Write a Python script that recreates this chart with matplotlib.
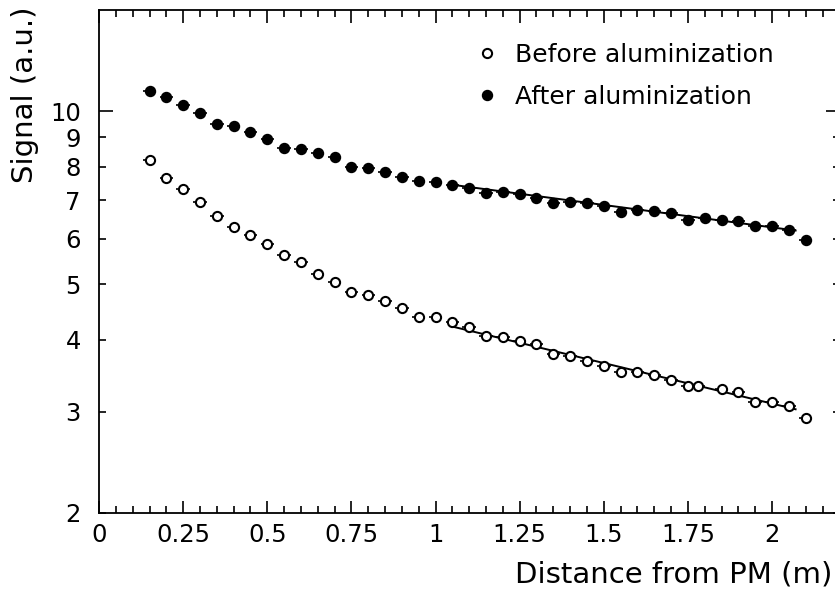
import matplotlib
matplotlib.use('Agg')
import matplotlib.pyplot as plt
from matplotlib.lines import Line2D
from matplotlib.ticker import FixedLocator, FixedFormatter

# distance from PM (m)
before_x = [0.15, 0.20, 0.25, 0.30, 0.35, 0.40, 0.45, 0.50, 0.55, 0.60,
            0.65, 0.70, 0.75, 0.80, 0.85, 0.90, 0.95, 1.00, 1.05, 1.10,
            1.15, 1.20, 1.25, 1.30, 1.35, 1.40, 1.45, 1.50, 1.55, 1.60,
            1.65, 1.70, 1.75, 1.78, 1.85, 1.90, 1.95, 2.00, 2.05, 2.10]
before_y = [8.21, 7.66, 7.32, 6.94, 6.56, 6.30, 6.10, 5.87, 5.61, 5.47,
            5.20, 5.05, 4.84, 4.79, 4.67, 4.55, 4.38, 4.38, 4.30, 4.21,
            4.07, 4.05, 3.99, 3.93, 3.78, 3.75, 3.68, 3.61, 3.52, 3.52,
            3.47, 3.41, 3.32, 3.32, 3.29, 3.25, 3.12, 3.12, 3.07, 2.93]

after_x = [0.15, 0.20, 0.25, 0.30, 0.35, 0.40, 0.45, 0.50, 0.55, 0.60,
           0.65, 0.70, 0.75, 0.80, 0.85, 0.90, 0.95, 1.00, 1.05, 1.10,
           1.15, 1.20, 1.25, 1.30, 1.35, 1.40, 1.45, 1.50, 1.55, 1.60,
           1.65, 1.70, 1.75, 1.80, 1.85, 1.90, 1.95, 2.00, 2.05, 2.10]
after_y = [10.86, 10.59, 10.27, 9.91, 9.49, 9.41, 9.20, 8.95, 8.63, 8.59,
           8.47, 8.33, 8.00, 7.95, 7.85, 7.68, 7.56, 7.52, 7.45, 7.35,
           7.21, 7.24, 7.17, 7.07, 6.92, 6.95, 6.92, 6.84, 6.69, 6.73,
           6.71, 6.65, 6.47, 6.51, 6.47, 6.44, 6.31, 6.31, 6.22, 5.97]

# exponential fits (straight on log scale), end points
fit_before_x = [1.05, 2.07]
fit_before_y = [4.22, 3.03]
fit_after_x = [1.04, 2.07]
fit_after_y = [7.46, 6.20]

x_err = 0.02

xticks = [0, 0.25, 0.5, 0.75, 1, 1.25, 1.5, 1.75, 2]
xticklabels = ['0', '0.25', '0.5', '0.75', '1', '1.25', '1.5', '1.75', '2']
yminor = [2, 3, 4, 5, 6, 7, 8, 9]
yminor_labels = ['2', '3', '4', '5', '6', '7', '8', '9']

plt.rcParams['font.family'] = 'DejaVu Sans'

fig = plt.figure(figsize=(8.35, 5.96), dpi=100)
# right spine falls just outside the picture, as in the scan
ax = fig.add_axes([0.1186, 0.1393, 0.8874, 0.8440])

ax.errorbar(before_x, before_y, xerr=x_err, fmt='o', color='black',
            mfc='white', mec='black', ms=6.6, mew=1.5, elinewidth=1.2,
            capsize=0, zorder=3)
ax.errorbar(after_x, after_y, xerr=x_err, fmt='o', color='black',
            mfc='black', mec='black', ms=7.2, elinewidth=1.2,
            capsize=0, zorder=3)
ax.plot(fit_before_x, fit_before_y, color='black', lw=1.4, zorder=2)
ax.plot(fit_after_x, fit_after_y, color='black', lw=1.4, zorder=2)

ax.set_yscale('log')
ax.set_xlim(0, 2.202)
ax.set_ylim(2, 15)

ax.xaxis.set_major_locator(FixedLocator(xticks))
ax.xaxis.set_major_formatter(FixedFormatter(xticklabels))
ax.set_xticks([i * 0.05 for i in range(45)], minor=True)
ax.yaxis.set_major_locator(FixedLocator([10]))
ax.yaxis.set_major_formatter(FixedFormatter(['10']))
ax.yaxis.set_minor_locator(FixedLocator(yminor))
ax.yaxis.set_minor_formatter(FixedFormatter(yminor_labels))

ax.tick_params(axis='both', which='both', direction='in', top=True,
               right=True, width=1.2, labelsize=17.5)
ax.tick_params(axis='x', which='major', length=9, pad=7)
ax.tick_params(axis='x', which='minor', length=5)
ax.tick_params(axis='y', which='major', length=10, pad=13)
ax.tick_params(axis='y', which='minor', length=5, pad=13)
for s in ax.spines.values():
    s.set_linewidth(1.3)

ax.set_xlabel('Distance from PM (m)', fontsize=21)
ax.xaxis.set_label_coords(0.99, -0.123)
ax.xaxis.label.set_ha('right')
ax.xaxis.label.set_va('center')
ax.set_ylabel('Signal (a.u.)', fontsize=21)
ax.yaxis.set_label_coords(-0.1, 0.831)
ax.yaxis.label.set_ha('center')
ax.yaxis.label.set_va('center')

h1 = Line2D([], [], ls='none', marker='o', mfc='white', mec='black',
            ms=6.6, mew=1.5)
h2 = Line2D([], [], ls='none', marker='o', mfc='black', mec='black', ms=7.2)
ax.legend([h1, h2], ['Before aluminization', 'After aluminization'],
          loc='upper left', bbox_to_anchor=(0.507, 0.935), frameon=False,
          fontsize=18, handlelength=1.0, handletextpad=0.6,
          labelspacing=0.74, borderpad=0, borderaxespad=0)

plt.savefig('out.png', dpi=100)
